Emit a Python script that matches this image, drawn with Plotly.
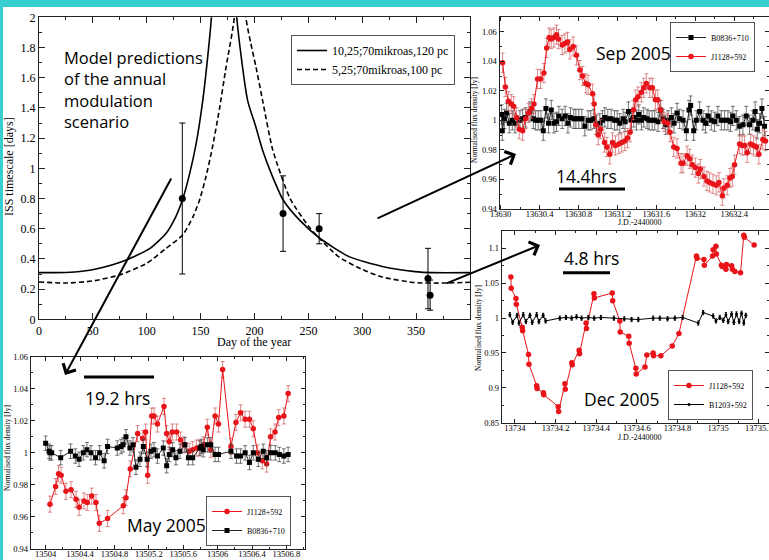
import plotly.graph_objects as go

W, H = 769, 560

# ---------------- main panel: model curves & measured timescales ----------------
solid_day = [0, 25, 40, 56, 81, 103, 118, 127, 133.5, 140, 146, 152, 156.6, 160, 165, 171.5, 178, 183.5,
             193.6, 201, 207.5, 217, 226.6, 241.4, 260, 287.7, 318.5, 349, 365, 400]
solid_val = [0.309, 0.31, 0.318, 0.338, 0.393, 0.47, 0.57, 0.68, 0.8, 0.97, 1.17, 1.45, 1.74, 2.0, 2.9, 4.0, 2.9, 2.0,
             1.45, 1.28, 1.12, 0.94, 0.79, 0.66, 0.54, 0.415, 0.35, 0.316, 0.309, 0.309]
dash_day = [0, 25, 50, 75, 100, 118, 133.5, 143, 149, 155, 161, 167.4, 173.6, 181.3, 184, 187, 190, 192,
            196.5, 201.4, 207.5, 217, 233, 252, 278, 300, 318.5, 349, 375, 400]
dash_val = [0.247, 0.240, 0.254, 0.294, 0.371, 0.47, 0.56, 0.68, 0.79, 0.945, 1.14, 1.39, 1.67, 2.0, 2.6, 3.4, 2.6, 2.0,
            1.83, 1.67, 1.45, 1.12, 0.8, 0.6, 0.415, 0.33, 0.28, 0.243, 0.24, 0.245]
pt_day = [133, 226.5, 260, 361, 363]
pt_val = [0.80, 0.70, 0.60, 0.27, 0.16]
pt_err = [0.50, 0.25, 0.10, 0.20, 0.10]
main_xticks = [0, 50, 100, 150, 200, 250, 300, 350]
main_yticks = [0, 0.2, 0.4, 0.6, 0.8, 1, 1.2, 1.4, 1.6, 1.8, 2]
main_yticktext = ["0", "0.2", "0.4", "0.6", "0.8", "1", "1.2", "1.4", "1.6", "1.8", "2"]

# ---------------- Sep 2005 ----------------
sep_red_jd = [13630.02, 13630.048, 13630.079, 13630.109, 13630.133, 13630.164, 13630.191, 13630.226, 13630.256,
              13630.287, 13630.318, 13630.342, 13630.379, 13630.410, 13630.444, 13630.472, 13630.499, 13630.520,
              13630.547, 13630.574, 13630.595, 13630.632, 13630.660, 13630.687, 13630.711, 13630.745, 13630.779,
              13630.814, 13630.841, 13630.875, 13630.899, 13630.944, 13630.961, 13630.978, 13631.002, 13631.026,
              13631.067, 13631.091, 13631.121, 13631.149, 13631.179, 13631.214, 13631.244, 13631.275, 13631.303,
              13631.330, 13631.364, 13631.388, 13631.412, 13631.446, 13631.470, 13631.497, 13631.532, 13631.559,
              13631.590, 13631.614, 13631.644, 13631.679, 13631.716, 13631.740, 13631.778, 13631.812, 13631.853,
              13631.874, 13631.915, 13631.942, 13631.969, 13632.000, 13632.031, 13632.051, 13632.089, 13632.120,
              13632.147, 13632.181, 13632.215, 13632.243, 13632.277, 13632.294, 13632.328, 13632.356, 13632.380,
              13632.403, 13632.455, 13632.482, 13632.506, 13632.533, 13632.568, 13632.598, 13632.626, 13632.653,
              13632.694, 13632.721]
sep_red_val = [1.039, 1.0226, 1.013, 1.011, 1.0095, 1.002, 0.994, 0.993, 1.001, 1.005, 1.008, 1.011, 1.028, 1.028,
               1.032, 1.049, 1.056, 1.055, 1.056, 1.058, 1.055, 1.051, 1.052, 1.053, 1.048, 1.050, 1.044, 1.034,
               1.030, 1.025, 1.024, 1.018, 1.011, 0.997, 0.990, 0.994, 0.985, 0.982, 0.977, 0.985, 0.983, 0.984,
               0.985, 0.986, 0.988, 0.992, 1.007, 1.014, 1.016, 1.019, 1.022, 1.025, 1.022, 1.022, 1.014, 1.014,
               1.007, 0.999, 0.998, 0.992, 0.982, 0.981, 0.971, 0.971, 0.976, 0.974, 0.970, 0.968, 0.964, 0.967,
               0.962, 0.959, 0.958, 0.957, 0.956, 0.958, 0.949, 0.954, 0.956, 0.961, 0.962, 0.970, 0.984, 0.983,
               0.983, 0.978, 0.984, 0.983, 0.982, 0.977, 0.987, 0.986]
sep_blk_jd = [13630.010, 13630.017, 13630.038, 13630.062, 13630.089, 13630.120, 13630.147, 13630.198, 13630.226,
              13630.256, 13630.301, 13630.335, 13630.359, 13630.386, 13630.414, 13630.438, 13630.465, 13630.492,
              13630.520, 13630.547, 13630.574, 13630.598, 13630.632, 13630.663, 13630.691, 13630.718, 13630.752,
              13630.773, 13630.803, 13630.834, 13630.865, 13630.899, 13630.926, 13630.957, 13630.985, 13631.019,
              13631.046, 13631.070, 13631.101, 13631.135, 13631.169, 13631.197, 13631.224, 13631.258, 13631.279,
              13631.313, 13631.344, 13631.368, 13631.395, 13631.419, 13631.446, 13631.470, 13631.504, 13631.525,
              13631.556, 13631.583, 13631.617, 13631.644, 13631.668, 13631.696, 13631.720, 13631.754, 13631.781,
              13631.812, 13631.839, 13631.874, 13631.908, 13631.935, 13631.952, 13631.983, 13632.010, 13632.044,
              13632.079, 13632.106, 13632.133, 13632.164, 13632.198, 13632.232, 13632.267, 13632.301, 13632.335,
              13632.362, 13632.386, 13632.421, 13632.455, 13632.489, 13632.523, 13632.557, 13632.591, 13632.615,
              13632.636, 13632.660, 13632.684, 13632.711]
sep_blk_val = [1.004, 0.993, 1.001, 1.005, 0.998, 1.000, 0.998, 1.000, 1.001, 1.002, 1.006, 1.001, 1.000, 1.000,
               1.000, 0.993, 1.008, 0.998, 1.007, 0.998, 0.999, 1.003, 1.001, 1.003, 0.998, 1.002, 1.001, 1.001,
               1.001, 1.001, 0.996, 1.000, 1.000, 1.001, 0.997, 0.998, 1.000, 1.002, 1.001, 1.001, 1.000, 1.000,
               0.998, 1.001, 0.999, 1.006, 1.000, 1.002, 1.000, 1.004, 1.000, 1.002, 1.001, 1.000, 1.000, 1.000,
               0.999, 1.007, 1.001, 0.997, 1.000, 1.002, 0.998, 1.005, 1.001, 1.000, 0.993, 1.007, 1.010, 0.993,
               1.000, 1.006, 1.000, 0.998, 1.003, 1.000, 0.999, 1.003, 1.000, 1.000, 1.000, 0.999, 1.003, 1.000,
               0.996, 0.997, 1.003, 0.997, 1.000, 1.006, 0.994, 0.998, 1.008, 0.996]
sep_xticks = [13630, 13630.4, 13630.8, 13631.2, 13631.6, 13632, 13632.4]
sep_xticktext = ["13630", "13630.4", "13630.8", "13631.2", "13631.6", "13632", "13632.4"]
sep_yticks = [0.94, 0.96, 0.98, 1.0, 1.02, 1.04, 1.06]
sep_yticktext = ["0.94", "0.96", "0.98", "1", "1.02", "1.04", "1.06"]

# ---------------- Dec 2005 ----------------
dec_red_jd = [13733.98, 13733.982, 13734.005, 13734.007, 13734.036, 13734.038, 13734.067, 13734.069, 13734.107,
              13734.109, 13734.14, 13734.142, 13734.213, 13734.215, 13734.246, 13734.248, 13734.28, 13734.282,
              13734.316, 13734.318, 13734.35, 13734.352, 13734.389, 13734.391, 13734.479, 13734.481, 13734.516,
              13734.518, 13734.56, 13734.562, 13734.595, 13734.597, 13734.64, 13734.649, 13734.68, 13734.682,
              13734.718, 13734.774, 13734.807, 13734.893, 13734.896, 13734.93, 13734.932, 13734.972, 13734.975,
              13734.989, 13734.991, 13735.016, 13735.02, 13735.038, 13735.041, 13735.066, 13735.07, 13735.082,
              13735.11, 13735.126, 13735.129, 13735.177]
dec_red_val = [1.059, 1.043, 1.028, 1.020, 0.987, 0.982, 0.948, 0.934, 0.903, 0.899, 0.893, 0.890, 0.873, 0.866,
               0.906, 0.898, 0.936, 0.933, 0.954, 0.949, 0.993, 0.985, 1.035, 1.029, 1.036, 1.025, 0.996, 0.980,
               0.974, 0.964, 0.928, 0.920, 0.930, 0.947, 0.950, 0.946, 0.946, 0.960, 0.978, 1.089, 1.086, 1.084,
               1.076, 1.089, 1.098, 1.103, 1.092, 1.076, 1.074, 1.070, 1.077, 1.075, 1.070, 1.067, 1.065, 1.119,
               1.116, 1.105]
dec_blk_jd = [13733.975, 13733.989, 13734.011, 13734.020, 13734.041, 13734.054, 13734.074, 13734.085, 13734.107,
              13734.118, 13734.139, 13734.151, 13734.221, 13734.251, 13734.279, 13734.303, 13734.328, 13734.361,
              13734.390, 13734.423, 13734.487, 13734.538, 13734.574, 13734.607, 13734.680, 13734.713, 13734.751,
              13734.787, 13734.825, 13734.902, 13734.926, 13734.975, 13734.989, 13735.008, 13735.025, 13735.038,
              13735.049, 13735.066, 13735.077, 13735.090, 13735.103, 13735.115, 13735.126, 13735.136]
dec_blk_val = [1.005, 0.994, 1.004, 0.993, 1.005, 0.995, 1.004, 0.994, 1.005, 0.995, 1.004, 0.996, 1.000, 1.001,
               1.000, 1.002, 1.000, 1.001, 1.000, 1.001, 1.000, 0.999, 0.998, 0.998, 1.000, 1.000, 0.999, 1.000,
               1.001, 0.993, 1.008, 1.003, 0.996, 1.001, 0.997, 1.005, 0.995, 1.006, 0.994, 1.006, 0.995, 1.007,
               0.993, 1.004]
dec_xticks = [13734, 13734.2, 13734.4, 13734.6, 13734.8, 13735, 13735.2]
dec_xticktext = ["13734", "13734.2", "13734.4", "13734.6", "13734.8", "13735", "13735.2"]
dec_yticks = [0.85, 0.9, 0.95, 1.0, 1.05, 1.1]
dec_yticktext = ["0.85", "0.9", "0.95", "1", "1.05", "1.1"]

# ---------------- May 2005 ----------------
may_red_jd = [13504.05, 13504.116, 13504.15, 13504.18, 13504.236, 13504.295, 13504.353, 13504.39, 13504.446,
              13504.484, 13504.535, 13504.585, 13504.624, 13504.72, 13504.903, 13504.934, 13504.984, 13505.07,
              13505.128, 13505.163, 13505.186, 13505.233, 13505.26, 13505.30, 13505.376, 13505.407, 13505.438,
              13505.473, 13505.523, 13505.57, 13505.61, 13505.67, 13505.71, 13505.756, 13505.787, 13505.833,
              13505.88, 13505.92, 13505.97, 13506.01, 13506.058, 13506.155, 13506.213, 13506.267, 13506.32,
              13506.37, 13506.415, 13506.465, 13506.52, 13506.57, 13506.616, 13506.667, 13506.71, 13506.77, 13506.82]
may_red_val = [0.968, 0.979, 0.987, 0.986, 0.976, 0.977, 0.971, 0.966, 0.970, 0.969, 0.973, 0.969, 0.956, 0.959,
               0.967, 0.972, 0.990, 1.012, 1.009, 1.013, 0.986, 1.023, 1.023, 1.018, 1.029, 1.012, 1.007, 1.013,
               1.013, 1.008, 1.005, 1.001, 1.002, 1.003, 1.003, 1.005, 1.016, 1.002, 1.023, 1.018, 1.052, 1.004,
               1.019, 1.025, 1.021, 1.021, 1.015, 1.000, 0.995, 0.993, 1.010, 1.013, 1.022, 1.023, 1.037]
may_blk_jd = [13504.0, 13504.04, 13504.05, 13504.07, 13504.175, 13504.29, 13504.345, 13504.388, 13504.438,
              13504.48, 13504.527, 13504.58, 13504.628, 13504.68, 13504.72, 13504.833, 13504.876, 13504.90,
              13504.934, 13504.98, 13505.016, 13505.05, 13505.097, 13505.136, 13505.18, 13505.225, 13505.26,
              13505.30, 13505.368, 13505.407, 13505.438, 13505.477, 13505.515, 13505.562, 13505.62, 13505.66,
              13505.71, 13505.795, 13505.81, 13505.833, 13505.88, 13505.92, 13505.97, 13506.01, 13506.155,
              13506.22, 13506.267, 13506.32, 13506.37, 13506.415, 13506.473, 13506.53, 13506.57, 13506.616,
              13506.67, 13506.717, 13506.77, 13506.82]
may_blk_val = [1.006, 1.001, 1.000, 1.000, 0.997, 1.001, 0.998, 0.996, 1.000, 1.002, 1.000, 0.997, 1.000, 0.995,
               1.004, 1.003, 1.004, 1.005, 1.010, 1.003, 1.005, 0.991, 0.996, 1.004, 0.996, 1.001, 1.002, 0.998,
               1.003, 0.992, 0.999, 1.002, 0.997, 1.001, 1.005, 0.997, 0.997, 1.003, 1.004, 1.002, 1.005, 1.005,
               0.999, 0.999, 1.001, 0.998, 0.998, 1.000, 0.994, 1.000, 0.996, 1.001, 0.997, 1.000, 1.000, 0.999,
               0.998, 0.999]
may_xticks = [13504, 13504.4, 13504.8, 13505.2, 13505.6, 13506, 13506.4, 13506.8]
may_xticktext = ["13504", "13504.4", "13504.8", "13505.2", "13505.6", "13506", "13506.4", "13506.8"]
may_yticks = [0.94, 0.96, 0.98, 1.0, 1.02, 1.04, 1.06]
may_yticktext = ["0.94", "0.96", "0.98", "1", "1.02", "1.04", "1.06"]

SERIF = "Liberation Serif"
SANS = "Open Sans"
RED = "#e8141a"


def fx(p):
    return p / W


def fy(p):
    return 1 - p / H


def axis(rng, dom, anchor, tv, tt, mdt, mt0, tl, ml, fs, standoff=0):
    return dict(range=rng, domain=dom, anchor=anchor, automargin=False, showline=True, linecolor="#222", linewidth=1,
                mirror="allticks", ticks="inside", ticklen=tl, tickwidth=1, tickcolor="#222",
                tickmode="array", tickvals=tv, ticktext=tt, ticklabelstandoff=standoff, ticklabeloverflow="allow",
                minor=dict(ticks="inside", tickmode="linear", dtick=mdt, tick0=mt0, ticklen=ml,
                           tickwidth=1, tickcolor="#222", showgrid=False),
                showgrid=False, zeroline=False,
                tickfont=dict(family=SERIF, size=fs, color="black"))


fig = go.Figure()

# main
fig.add_trace(go.Scatter(x=solid_day, y=solid_val, mode="lines", line=dict(color="black", width=1.6, shape="spline", smoothing=0.6),
                         name="10,25;70mikroas,120 pc", xaxis="x", yaxis="y", legend="legend"))
fig.add_trace(go.Scatter(x=dash_day, y=dash_val, mode="lines", line=dict(color="black", width=1.6, dash="5px,3px", shape="spline", smoothing=0.6),
                         name="5,25;70mikroas,100 pc", xaxis="x", yaxis="y", legend="legend"))
fig.add_trace(go.Scatter(x=pt_day, y=pt_val, mode="markers", marker=dict(color="black", size=7),
                         error_y=dict(type="data", array=pt_err, color="black", thickness=1, width=3),
                         showlegend=False, xaxis="x", yaxis="y"))

# Sep
fig.add_trace(go.Scatter(x=sep_blk_jd, y=sep_blk_val, mode="lines+markers", name="B0836+710",
                         line=dict(color="#222", width=1), marker=dict(symbol="square", size=5, color="black"),
                         error_y=dict(type="constant", value=0.0065, color="rgba(70,70,70,0.75)", thickness=1, width=2),
                         xaxis="x2", yaxis="y2", legend="legend2"))
fig.add_trace(go.Scatter(x=sep_red_jd, y=sep_red_val, mode="lines+markers", name="J1128+592",
                         line=dict(color=RED, width=1), marker=dict(symbol="circle", size=5.5, color=RED),
                         error_y=dict(type="constant", value=0.0065, color="rgba(210,90,90,0.7)", thickness=1, width=2),
                         xaxis="x2", yaxis="y2", legend="legend2"))

# Dec
fig.add_trace(go.Scatter(x=dec_red_jd, y=dec_red_val, mode="lines+markers", name="J1128+592",
                         line=dict(color=RED, width=1), marker=dict(symbol="circle", size=5.5, color=RED),
                         xaxis="x3", yaxis="y3", legend="legend3"))
fig.add_trace(go.Scatter(x=dec_blk_jd, y=dec_blk_val, mode="lines+markers", name="B1203+592",
                         line=dict(color="black", width=1), marker=dict(symbol="circle", size=3, color="black"),
                         error_y=dict(type="constant", value=0.003, color="black", thickness=1, width=1),
                         xaxis="x3", yaxis="y3", legend="legend3"))

# May
fig.add_trace(go.Scatter(x=may_red_jd, y=may_red_val, mode="lines+markers", name="J1128+592",
                         line=dict(color=RED, width=1), marker=dict(symbol="circle", size=5.5, color=RED),
                         error_y=dict(type="constant", value=0.005, color="rgba(210,90,90,0.7)", thickness=1, width=2),
                         xaxis="x4", yaxis="y4", legend="legend4"))
fig.add_trace(go.Scatter(x=may_blk_jd, y=may_blk_val, mode="lines+markers", name="B0836+710",
                         line=dict(color="#222", width=1), marker=dict(symbol="square", size=5, color="black"),
                         error_y=dict(type="constant", value=0.0045, color="rgba(70,70,70,0.75)", thickness=1, width=2),
                         xaxis="x4", yaxis="y4", legend="legend4"))

legend_common = dict(xanchor="left", yanchor="top", bgcolor="white", bordercolor="#555", borderwidth=1,
                     tracegroupgap=0, itemsizing="trace")

annotations = []


def text(x, y, s, size, family=SANS, angle=0, xanchor="center", align="center"):
    annotations.append(dict(x=fx(x), y=fy(y), xref="paper", yref="paper", text=s, showarrow=False,
                            font=dict(family=family, size=size, color="black"), textangle=angle,
                            xanchor=xanchor, yanchor="middle", align=align))


text(61.7, 89.5, "Model predictions<br>of the annual<br>modulation<br>scenario", 16.5, xanchor="left", align="left")
text(633, 53, "Sep 2005", 17.5)
text(586, 176, "14.4hrs", 17.5)
text(591, 258, "4.8 hrs", 17.5)
text(621, 399, "Dec 2005", 17.5)
text(117, 398, "19.2 hrs", 17.5)
text(166, 525, "May 2005", 17.5)
text(9, 167, "ISS timescale [days]", 12, family=SERIF, angle=-90)
text(254, 342, "Day of the year", 12, family=SERIF)
text(474, 120, "Normalised flux density [Jy]", 7.5, family=SERIF, angle=-90)
text(640, 223, "J.D.-2440000", 8, family=SERIF)
text(478, 328, "Normalised flux density [Jy]", 7.5, family=SERIF, angle=-90)
text(640, 437, "J.D.-2440000", 8, family=SERIF)
text(7, 448, "Normalised flux density [Jy]", 7.5, family=SERIF, angle=-90)

# arrows from the main panel to the insets
for hx, hy, tx, ty in [(65, 375, 172, 177), (516, 154, 376, 219), (540, 245, 445, 284)]:
    annotations.append(dict(x=fx(hx), y=fy(hy), xref="paper", yref="paper", text="", showarrow=True,
                            ax=tx - hx, ay=ty - hy, axref="pixel", ayref="pixel",
                            arrowhead=4, arrowsize=1.4, arrowwidth=2, arrowcolor="black", standoff=0))

shapes = [
    dict(type="rect", xref="paper", yref="paper", x0=0, x1=1, y0=fy(7), y1=1, fillcolor="#36CECE", line=dict(width=0)),
    dict(type="rect", xref="paper", yref="paper", x0=0, x1=fx(3), y0=0, y1=1, fillcolor="#36CECE", line=dict(width=0)),
]
for x0, x1, y in [(559, 625, 189), (563, 610, 272.7), (84, 154, 377)]:
    shapes.append(dict(type="line", xref="paper", yref="paper", x0=fx(x0), x1=fx(x1), y0=fy(y), y1=fy(y),
                       line=dict(color="black", width=3)))

fig.update_layout(
    width=W, height=H, margin=dict(l=0, r=0, t=0, b=0, autoexpand=False), paper_bgcolor="white", plot_bgcolor="white",
    xaxis=axis([0, 400], [fx(39), fx(470)], "y", main_xticks, [str(v) for v in main_xticks], 25, 0, 6, 3, 12),
    yaxis=axis([0, 2], [fy(319.3), fy(17.3)], "x", main_yticks, main_yticktext, 0.1, 0, 6, 3, 12),
    xaxis2=axis([13629.988, 13632.757], [fx(499.5), 1], "y2", sep_xticks, sep_xticktext, 0.2, 13630, 4, 2, 8.5, -3),
    yaxis2=axis([0.94, 1.07], [fy(209), fy(16.9)], "x2", sep_yticks, sep_yticktext, 0.01, 0.94, 4, 2, 8.5),
    xaxis3=axis([13733.935, 13735.25], [fx(501.7), 1], "y3", dec_xticks, dec_xticktext, 0.1, 13734, 4, 2, 8.5, -3),
    yaxis3=axis([0.85, 1.125], [fy(422.7), fy(231)], "x3", dec_yticks, dec_yticktext, 0.025, 0.85, 4, 2, 8.5),
    xaxis4=axis([13503.826, 13507.016], [fx(30.7), fx(305)], "y4", may_xticks, may_xticktext, 0.2, 13504, 4, 2, 8.5, -3),
    yaxis4=axis([0.94, 1.06], [fy(549), fy(356.7)], "x4", may_yticks, may_yticktext, 0.01, 0.94, 4, 2, 8.5),
    legend=dict(x=fx(291), y=fy(35), font=dict(family=SERIF, size=12, color="black"), **legend_common),
    legend2=dict(x=fx(670), y=fy(22), font=dict(family=SERIF, size=8, color="black"), **legend_common),
    legend3=dict(x=fx(668), y=fy(370), font=dict(family=SERIF, size=8, color="black"), **legend_common),
    legend4=dict(x=fx(206), y=fy(496), font=dict(family=SERIF, size=8, color="black"), **legend_common),
    annotations=annotations, shapes=shapes, showlegend=True,
)

fig.write_html("out.html", config={"displayModeBar": False},
               post_script="document.body.style.margin='0px';document.body.style.overflow='hidden';")
